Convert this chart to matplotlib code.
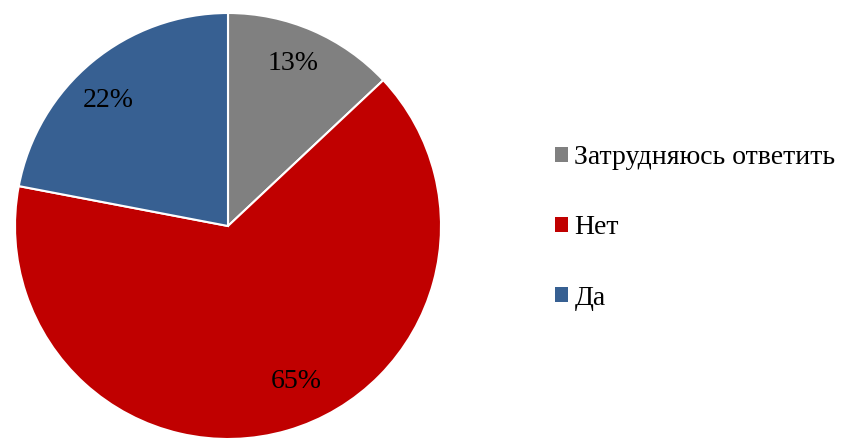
import matplotlib.pyplot as plt
from matplotlib.patches import Patch

# Data
labels = ['Затрудняюсь ответить', 'Нет', 'Да']
values = [13, 65, 22]
colors = ['#808080', '#C00000', '#376092']

plt.rcParams['font.family'] = ['Liberation Serif', 'DejaVu Serif']

fig = plt.figure(figsize=(8.43, 4.38), dpi=100)
# pie occupies a square area on the left
r_px = 213
cx, cy = 228, 438 - 226
ax = fig.add_axes([(cx - r_px) / 843, (cy - r_px) / 438, 2 * r_px / 843, 2 * r_px / 438])

wedges, texts, autotexts = ax.pie(
    values, colors=colors, startangle=90, counterclock=False,
    autopct='%d%%', pctdistance=0.82, radius=1.0,
    wedgeprops=dict(edgecolor='white', linewidth=1.5),
    textprops=dict(fontsize=20, color='black'))

# excel-like label placement
label_pos = [(0.305, 0.765), (0.32, -0.73), (-0.56, 0.59)]
for t, p in zip(autotexts, label_pos):
    t.set_position(p)

ax.set_xlim(-1, 1)
ax.set_ylim(-1, 1)
ax.set_aspect('equal')
ax.axis('off')

handles = [Patch(facecolor=c, edgecolor='none') for c in colors]
fig.legend(handles, labels, loc='center left', bbox_to_anchor=(555 / 843, 1 - 228 / 438),
           frameon=False, fontsize=20, handlelength=0.45, handleheight=0.45,
           handletextpad=0.25, labelspacing=1.63, borderaxespad=0, borderpad=0)

fig.savefig('out.png', dpi=100)
